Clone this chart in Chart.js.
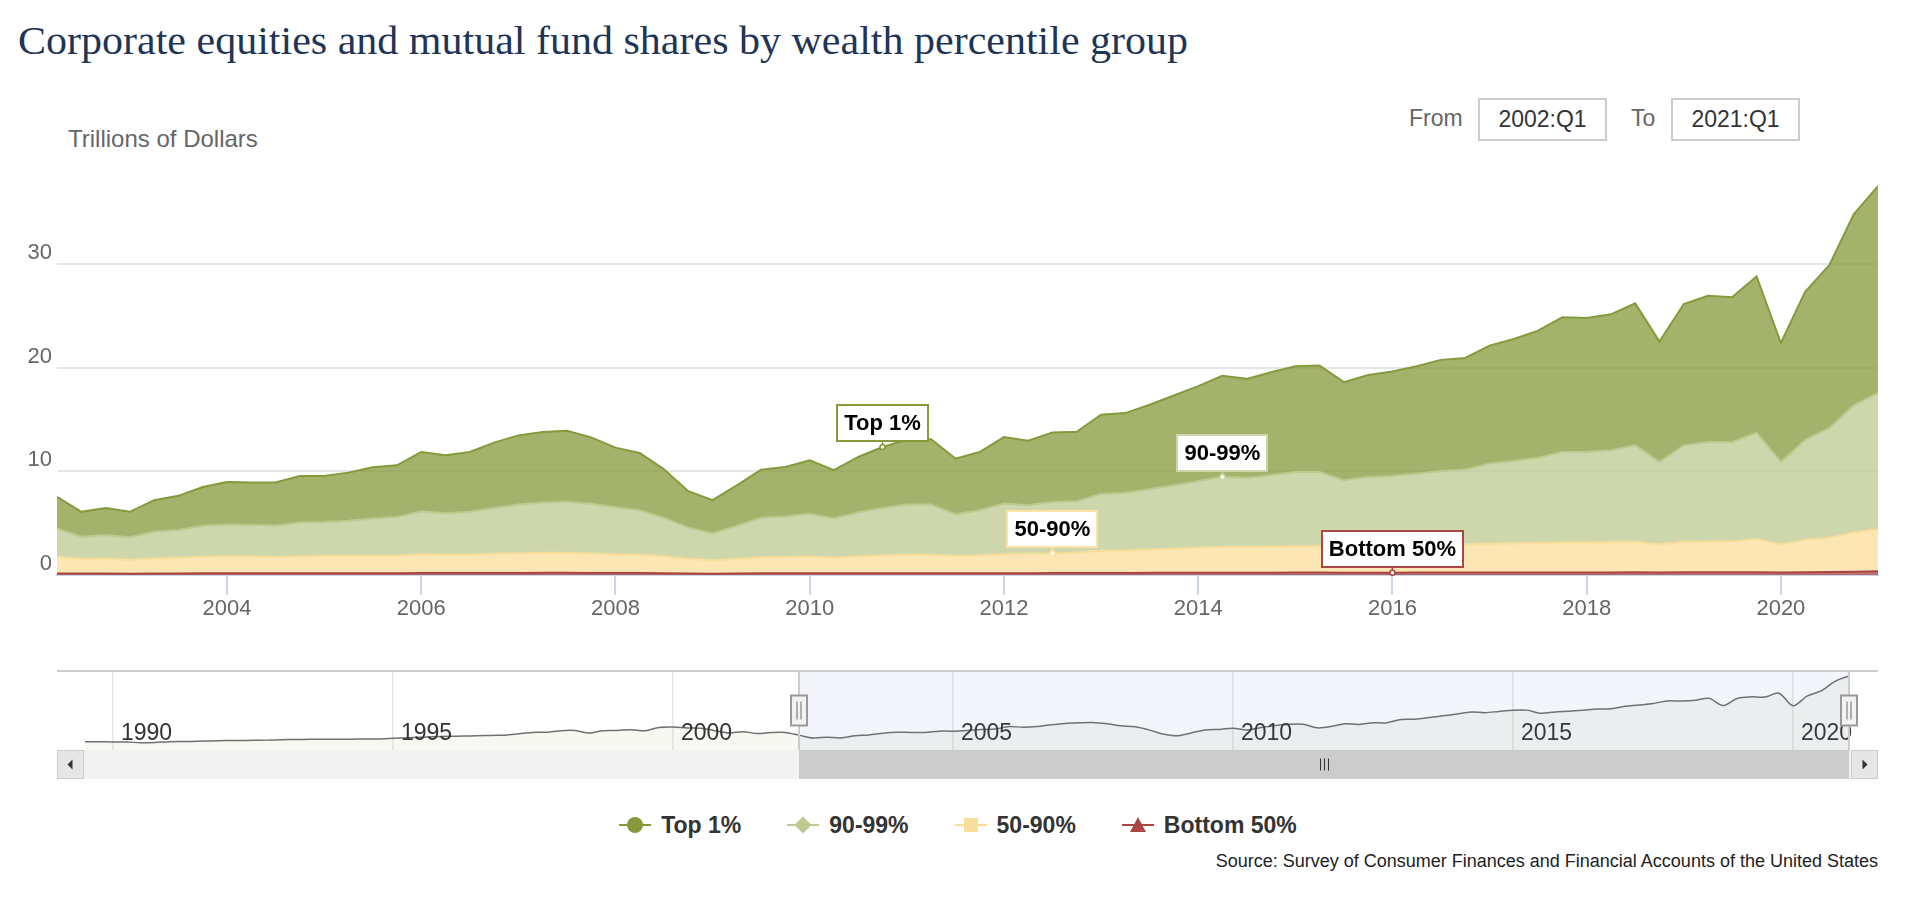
<!DOCTYPE html>
<html>
<head>
<meta charset="utf-8">
<title>Corporate equities and mutual fund shares by wealth percentile group</title>
<script src="https://cdn.jsdelivr.net/npm/chart.js@4.4.1/dist/chart.umd.min.js"></script>
<style>
  html, body { margin: 0; padding: 0; background: #fff; }
  body { width: 1916px; height: 910px; position: relative; overflow: hidden; font-family: "Liberation Sans", Arial, sans-serif; }
  #title { position: absolute; left: 18px; top: 21px; font-family: "Liberation Serif", serif; font-size: 40px; line-height: 1; color: #1e3557; white-space: nowrap; transform-origin: 0 0; }
  #ytitle { position: absolute; left: 68px; top: 127px; font-size: 24px; line-height: 1; color: #666; }
  .rs-label { position: absolute; top: 107px; font-size: 23px; line-height: 1; color: #666; }
  .rs-box { position: absolute; top: 98px; width: 129px; height: 43px; box-sizing: border-box; border: 2px solid #ccc; font-size: 23px; color: #333; text-align: center; line-height: 39px; }
  #main { position: absolute; left: 0; top: 150px; width: 1916px; height: 480px; }
  #nav { position: absolute; left: 0; top: 660px; width: 1916px; height: 130px; }
  #legend { position: absolute; left: 0; top: 812px; width: 1916px; height: 26px; display: flex; justify-content: center; align-items: center; }
  .item { display: flex; align-items: center; margin: 0 23px; }
  .sym { position: relative; width: 32px; height: 20px; }
  .ln { position: absolute; left: 0; top: 9px; width: 32px; height: 2px; }
  .mk { position: absolute; }
  .txt { margin-left: 10px; font-weight: bold; font-size: 23px; color: #333; white-space: nowrap; }
  #source { position: absolute; right: 38px; top: 851px; font-size: 18px; line-height: 20px; color: #222; white-space: nowrap; }
</style>
</head>
<body>
<div id="title">Corporate equities and mutual fund shares by wealth percentile group</div>
<div id="ytitle">Trillions of Dollars</div>
<div class="rs-label" style="left:1409px">From</div>
<div class="rs-box" style="left:1478px">2002:Q1</div>
<div class="rs-label" style="left:1631px">To</div>
<div class="rs-box" style="left:1671px">2021:Q1</div>
<div id="main"><canvas id="mainChart"></canvas></div>
<div id="nav"><canvas id="navChart"></canvas></div>
<div id="legend"></div>
<div id="source">Source: Survey of Consumer Finances and Financial Accounts of the United States</div>

<script>
// Quý hiển thị trên biểu đồ chính
const quarters = [
  '2002:Q2', '2002:Q3', '2002:Q4',
  '2003:Q1', '2003:Q2', '2003:Q3', '2003:Q4',
  '2004:Q1', '2004:Q2', '2004:Q3', '2004:Q4',
  '2005:Q1', '2005:Q2', '2005:Q3', '2005:Q4',
  '2006:Q1', '2006:Q2', '2006:Q3', '2006:Q4',
  '2007:Q1', '2007:Q2', '2007:Q3', '2007:Q4',
  '2008:Q1', '2008:Q2', '2008:Q3', '2008:Q4',
  '2009:Q1', '2009:Q2', '2009:Q3', '2009:Q4',
  '2010:Q1', '2010:Q2', '2010:Q3', '2010:Q4',
  '2011:Q1', '2011:Q2', '2011:Q3', '2011:Q4',
  '2012:Q1', '2012:Q2', '2012:Q3', '2012:Q4',
  '2013:Q1', '2013:Q2', '2013:Q3', '2013:Q4',
  '2014:Q1', '2014:Q2', '2014:Q3', '2014:Q4',
  '2015:Q1', '2015:Q2', '2015:Q3', '2015:Q4',
  '2016:Q1', '2016:Q2', '2016:Q3', '2016:Q4',
  '2017:Q1', '2017:Q2', '2017:Q3', '2017:Q4',
  '2018:Q1', '2018:Q2', '2018:Q3', '2018:Q4',
  '2019:Q1', '2019:Q2', '2019:Q3', '2019:Q4',
  '2020:Q1', '2020:Q2', '2020:Q3', '2020:Q4',
  '2021:Q1'
];

// Giá trị từng nhóm (nghìn tỷ USD)
const top1 = [
  3.04, 2.40, 2.62, 2.44, 3.04, 3.30, 3.75, 4.10, 4.10, 4.13,
  4.49, 4.45, 4.65, 4.93, 5.00, 5.71, 5.58, 5.77, 6.29, 6.67,
  6.79, 6.86, 6.41, 5.74, 5.51, 4.68, 3.51, 3.20, 3.91, 4.65,
  4.78, 5.16, 4.65, 5.35, 5.87, 6.25, 6.29, 5.35, 5.61, 6.41,
  6.22, 6.70, 6.69, 7.63, 7.69, 8.14, 8.66, 9.17, 9.74, 9.55,
  9.93, 10.19, 10.25, 9.46, 9.83, 10.07, 10.35, 10.71, 10.77, 11.38,
  11.76, 12.25, 12.98, 12.92, 13.11, 13.69, 11.60, 13.62, 14.10, 13.97,
  15.06, 11.47, 14.27, 15.73, 18.43, 19.94
];
const p90to99 = [
  2.73, 2.15, 2.25, 2.21, 2.57, 2.66, 2.98, 3.08, 3.02, 3.05,
  3.27, 3.27, 3.39, 3.59, 3.72, 4.16, 4.00, 4.13, 4.42, 4.71,
  4.84, 4.90, 4.78, 4.55, 4.29, 3.72, 3.00, 2.60, 3.20, 3.81,
  3.91, 4.11, 3.78, 4.24, 4.58, 4.83, 4.83, 4.04, 4.36, 4.87,
  4.68, 4.97, 4.94, 5.48, 5.55, 5.80, 6.12, 6.41, 6.77, 6.67,
  6.90, 7.18, 7.15, 6.41, 6.67, 6.73, 6.93, 7.11, 7.21, 7.73,
  7.96, 8.23, 8.72, 8.72, 8.85, 9.29, 7.95, 9.29, 9.58, 9.58,
  10.26, 7.95, 9.67, 10.58, 12.25, 13.14
];
const p50to90 = [
  1.61, 1.40, 1.46, 1.31, 1.46, 1.52, 1.60, 1.63, 1.63, 1.57,
  1.62, 1.66, 1.66, 1.69, 1.68, 1.80, 1.77, 1.77, 1.85, 1.88,
  1.94, 1.94, 1.88, 1.80, 1.77, 1.62, 1.42, 1.28, 1.40, 1.54,
  1.57, 1.62, 1.51, 1.62, 1.71, 1.78, 1.78, 1.66, 1.72, 1.84,
  1.87, 1.89, 1.99, 2.14, 2.17, 2.26, 2.32, 2.41, 2.47, 2.47,
  2.50, 2.53, 2.56, 2.50, 2.57, 2.60, 2.62, 2.69, 2.72, 2.77,
  2.80, 2.84, 2.89, 2.89, 2.92, 2.95, 2.71, 2.95, 2.98, 2.98,
  3.19, 2.71, 3.10, 3.30, 3.78, 4.07
];
const bottom50 = [
  0.15, 0.14, 0.14, 0.13, 0.14, 0.15, 0.16, 0.16, 0.16, 0.16,
  0.17, 0.17, 0.17, 0.17, 0.18, 0.19, 0.19, 0.19, 0.20, 0.20,
  0.21, 0.21, 0.20, 0.19, 0.19, 0.17, 0.15, 0.13, 0.14, 0.16,
  0.16, 0.17, 0.16, 0.17, 0.18, 0.18, 0.18, 0.17, 0.17, 0.18,
  0.18, 0.19, 0.19, 0.20, 0.20, 0.21, 0.21, 0.22, 0.22, 0.22,
  0.22, 0.23, 0.23, 0.22, 0.22, 0.22, 0.23, 0.23, 0.23, 0.24,
  0.24, 0.24, 0.25, 0.25, 0.25, 0.26, 0.24, 0.26, 0.26, 0.26,
  0.27, 0.24, 0.27, 0.29, 0.32, 0.35
];

// Phần đầu của thanh điều hướng (tổng, trước vùng đang xem)
const navEarlyQuarters = [
  '1989:Q3', '1989:Q4',
  '1990:Q1', '1990:Q2', '1990:Q3', '1990:Q4',
  '1991:Q1', '1991:Q2', '1991:Q3', '1991:Q4',
  '1992:Q1', '1992:Q2', '1992:Q3', '1992:Q4',
  '1993:Q1', '1993:Q2', '1993:Q3', '1993:Q4',
  '1994:Q1', '1994:Q2', '1994:Q3', '1994:Q4',
  '1995:Q1', '1995:Q2', '1995:Q3', '1995:Q4',
  '1996:Q1', '1996:Q2', '1996:Q3', '1996:Q4',
  '1997:Q1', '1997:Q2', '1997:Q3', '1997:Q4',
  '1998:Q1', '1998:Q2', '1998:Q3', '1998:Q4',
  '1999:Q1', '1999:Q2', '1999:Q3', '1999:Q4',
  '2000:Q1', '2000:Q2', '2000:Q3', '2000:Q4',
  '2001:Q1', '2001:Q2', '2001:Q3', '2001:Q4',
  '2002:Q1'
];
const navEarlyTotal = [
  4.2, 4.2,
  4.1, 4.0, 3.7, 3.8,
  4.2, 4.3, 4.4, 4.6,
  4.8, 4.8, 4.9, 5.0,
  5.2, 5.3, 5.4, 5.5,
  5.5, 5.5, 5.6, 5.6,
  5.9, 6.2, 6.5, 6.7,
  6.9, 7.1, 7.2, 7.4,
  7.5, 8.2, 8.9, 9.0,
  9.8, 9.9, 8.6, 9.8,
  9.9, 10.3, 9.8, 11.4,
  11.6, 11.2, 11.0, 9.8,
  8.6, 9.3, 8.3, 8.8,
  8.9
];

// Nhãn trục
const xTicks = [2004, 2006, 2008, 2010, 2012, 2014, 2016, 2018, 2020];
const yTicks = [0, 10, 20, 30];
const navTicks = [1990, 1995, 2000, 2005, 2010, 2015, 2020];

const FONT = '"Liberation Sans", Arial, sans-serif';
Chart.defaults.font.family = FONT;

// Kéo tiêu đề cho vừa bề rộng như bản gốc
const titleEl = document.getElementById('title');
titleEl.style.transform = 'scaleX(' + (1170 / titleEl.offsetWidth) + ')';

function qx(q) {
  const parts = q.split(':Q');
  return +parts[0] + (+parts[1] - 1) / 4;
}
function pts(vals) {
  return quarters.map((q, i) => ({ x: qx(q), y: vals[i] }));
}

const series = [
  { name: 'Top 1%', values: top1, color: '#849a3b', fill: 'rgba(132,154,59,0.75)', marker: 'circle' },
  { name: '90-99%', values: p90to99, color: '#bcc98f', fill: 'rgba(188,201,143,0.75)', marker: 'diamond' },
  { name: '50-90%', values: p50to90, color: '#f9de9b', fill: 'rgba(249,222,155,0.75)', marker: 'square' },
  { name: 'Bottom 50%', values: bottom50, color: '#aa4643', fill: 'rgba(170,70,67,0.75)', marker: 'triangle' }
];

// Nhãn chú thích trên vùng
const callouts = [
  { series: 'Top 1%', at: '2010:Q4', border: '#849a3b' },
  { series: '90-99%', at: '2014:Q2', border: '#cdd6ab' },
  { series: '50-90%', at: '2012:Q3', border: '#fbe3a5' },
  { series: 'Bottom 50%', at: '2016:Q1', border: '#aa4643' }
];

// Xếp chồng từ dưới lên: Bottom 50% trước
const stackOrder = series.slice().reverse();

const calloutPlugin = {
  id: 'callouts',
  afterDatasetsDraw(chart) {
    const ctx = chart.ctx;
    ctx.save();
    ctx.font = 'bold 22px ' + FONT;
    callouts.forEach(c => {
      const ds = stackOrder.findIndex(s => s.name === c.series);
      const el = chart.getDatasetMeta(ds).data[quarters.indexOf(c.at)];
      const x = el.x, y = el.y;
      const w = Math.round(ctx.measureText(c.series).width + 14), h = 36;
      const bx = Math.round(x - w / 2), by = Math.round(y - 6 - h);
      ctx.strokeStyle = c.border;
      ctx.lineWidth = 1.5;
      ctx.beginPath(); ctx.moveTo(x, by + h); ctx.lineTo(x, y); ctx.stroke();
      ctx.fillStyle = '#fff';
      ctx.beginPath(); ctx.arc(x, y, 2.5, 0, Math.PI * 2); ctx.fill(); ctx.stroke();
      ctx.fillRect(bx, by, w, h);
      ctx.lineWidth = 2;
      ctx.strokeRect(bx, by, w, h);
      ctx.fillStyle = '#000';
      ctx.textAlign = 'center';
      ctx.textBaseline = 'middle';
      ctx.fillText(c.series, x, by + h / 2 + 1);
    });
    ctx.restore();
  }
};

new Chart(document.getElementById('mainChart'), {
  type: 'line',
  data: {
    datasets: stackOrder.map((s, i) => ({
      label: s.name,
      data: pts(s.values),
      borderColor: s.color,
      backgroundColor: s.fill,
      borderWidth: 2,
      fill: i === 0 ? 'origin' : '-1',
      pointRadius: 0,
      tension: 0
    }))
  },
  options: {
    responsive: true,
    maintainAspectRatio: false,
    devicePixelRatio: 1,
    animation: false,
    layout: { padding: { top: 35, right: 38, left: 0, bottom: 0 } },
    plugins: { legend: { display: false }, tooltip: { enabled: false } },
    scales: {
      x: {
        type: 'linear',
        min: qx(quarters[0]),
        max: qx(quarters[quarters.length - 1]),
        afterBuildTicks: s => { s.ticks = xTicks.map(v => ({ value: v })); },
        afterFit: s => { s.height = 55; },
        grid: { drawOnChartArea: false, drawTicks: true, tickLength: 20, color: '#ccd6eb', lineWidth: 2 },
        border: { display: true, color: '#ccd6eb', width: 2 },
        ticks: { color: '#666', font: { size: 22 }, padding: 1, maxRotation: 0, autoSkip: false, callback: v => String(v) }
      },
      y: {
        stacked: true,
        min: 0,
        max: 37.6,
        afterBuildTicks: s => { s.ticks = yTicks.map(v => ({ value: v })); },
        afterFit: s => { s.width = 57; },
        grid: { color: '#e6e6e6', lineWidth: 2, drawTicks: false },
        border: { display: false },
        ticks: { color: '#666', font: { size: 22 }, padding: 5, labelOffset: -11 }
      }
    }
  },
  plugins: [calloutPlugin]
});

// Thanh điều hướng phía dưới
const navQuarters = navEarlyQuarters.concat(quarters);
const navTotal = navEarlyTotal.concat(quarters.map((q, i) => top1[i] + p90to99[i] + p50to90[i] + bottom50[i]));
const selFrom = qx(quarters[0]);
const selTo = qx(quarters[quarters.length - 1]);

const navPlugin = {
  id: 'navigatorParts',
  afterDraw(chart) {
    const ctx = chart.ctx;
    const xs = chart.scales.x;
    const { top, bottom, left, right } = chart.chartArea;
    const s0 = xs.getPixelForValue(selFrom), s1 = xs.getPixelForValue(selTo);
    const barL = left - 28, barR = right + 29, barH = 29;
    ctx.save();
    // nhãn năm
    ctx.font = '23px ' + FONT;
    ctx.fillStyle = '#333';
    ctx.textAlign = 'left';
    ctx.textBaseline = 'middle';
    navTicks.forEach(v => ctx.fillText(String(v), xs.getPixelForValue(v) + 8, bottom - 16));
    // vùng chọn
    ctx.fillStyle = 'rgba(102,133,194,0.08)';
    ctx.fillRect(s0, top, s1 - s0, bottom - top);
    // viền
    ctx.strokeStyle = '#cccccc';
    ctx.lineWidth = 2;
    ctx.beginPath();
    ctx.moveTo(barL, top); ctx.lineTo(barR, top);
    ctx.moveTo(s0, top); ctx.lineTo(s0, bottom);
    ctx.moveTo(s1, top); ctx.lineTo(s1, bottom);
    ctx.stroke();
    // thanh cuộn
    ctx.fillStyle = '#f2f2f2';
    ctx.fillRect(barL, bottom, barR - barL, barH);
    ctx.fillStyle = '#cccccc';
    ctx.fillRect(s0, bottom, s1 - s0, barH);
    [barL, barR - 27].forEach((bx, k) => {
      ctx.fillStyle = '#e6e6e6';
      ctx.fillRect(bx, bottom, 27, barH);
      ctx.strokeStyle = '#cccccc';
      ctx.lineWidth = 1;
      ctx.strokeRect(bx + 0.5, bottom + 0.5, 26, barH - 1);
      const cx = bx + 13.5, cy = bottom + barH / 2;
      ctx.fillStyle = '#333';
      ctx.beginPath();
      if (k === 0) { ctx.moveTo(cx - 3, cy); ctx.lineTo(cx + 2, cy - 5); ctx.lineTo(cx + 2, cy + 5); }
      else { ctx.moveTo(cx + 3, cy); ctx.lineTo(cx - 2, cy - 5); ctx.lineTo(cx - 2, cy + 5); }
      ctx.fill();
    });
    const gx = (s0 + s1) / 2, gy = bottom + barH / 2;
    ctx.strokeStyle = '#333';
    ctx.lineWidth = 1;
    ctx.beginPath();
    [-4, 0, 4].forEach(d => { ctx.moveTo(Math.round(gx + d) + 0.5, gy - 6); ctx.lineTo(Math.round(gx + d) + 0.5, gy + 6); });
    ctx.stroke();
    // tay nắm
    const hy = (top + bottom) / 2;
    [s0, s1].forEach(sx => {
      ctx.fillStyle = '#f2f2f2';
      ctx.strokeStyle = '#999999';
      ctx.lineWidth = 2;
      ctx.fillRect(sx - 8, hy - 15, 16, 30);
      ctx.strokeRect(sx - 8, hy - 15, 16, 30);
      ctx.lineWidth = 1.5;
      ctx.beginPath();
      ctx.moveTo(sx - 2, hy - 9); ctx.lineTo(sx - 2, hy + 9);
      ctx.moveTo(sx + 2, hy - 9); ctx.lineTo(sx + 2, hy + 9);
      ctx.stroke();
    });
    ctx.restore();
  }
};

new Chart(document.getElementById('navChart'), {
  type: 'line',
  data: {
    datasets: [{
      data: navQuarters.map((q, i) => ({ x: qx(q), y: navTotal[i] })),
      borderColor: '#707070',
      borderWidth: 1.5,
      backgroundColor: 'rgba(200,210,170,0.15)',
      fill: 'origin',
      pointRadius: 0,
      tension: 0.3
    }]
  },
  options: {
    responsive: true,
    maintainAspectRatio: false,
    devicePixelRatio: 1,
    animation: false,
    layout: { padding: { top: 11, right: 67, left: 85, bottom: 40 } },
    plugins: { legend: { display: false }, tooltip: { enabled: false } },
    scales: {
      x: {
        type: 'linear',
        min: qx(navQuarters[0]),
        max: qx(navQuarters[navQuarters.length - 1]),
        afterBuildTicks: s => { s.ticks = navTicks.map(v => ({ value: v })); },
        afterFit: s => { s.height = 0; },
        grid: { color: '#e6e6e6', lineWidth: 1.5, drawTicks: false },
        border: { display: false },
        ticks: { display: false }
      },
      y: { display: false, min: 0, max: 40 }
    }
  },
  plugins: [navPlugin]
});

// Chú giải dạng HTML
const legendEl = document.getElementById('legend');
legendEl.innerHTML = series.map(s => {
  let mk = '';
  if (s.marker === 'circle') mk = `<span class="mk" style="left:8px;top:2px;width:16px;height:16px;border-radius:50%;background:${s.color}"></span>`;
  if (s.marker === 'diamond') mk = `<span class="mk" style="left:10px;top:4px;width:12px;height:12px;transform:rotate(45deg);background:${s.color}"></span>`;
  if (s.marker === 'square') mk = `<span class="mk" style="left:9px;top:3px;width:14px;height:14px;background:${s.color}"></span>`;
  if (s.marker === 'triangle') mk = `<span class="mk" style="left:8px;top:2px;width:0;height:0;border-left:8px solid transparent;border-right:8px solid transparent;border-bottom:15px solid ${s.color}"></span>`;
  return `<div class="item"><span class="sym"><span class="ln" style="background:${s.color}"></span>${mk}</span><span class="txt">${s.name}</span></div>`;
}).join('');
</script>
</body>
</html>
